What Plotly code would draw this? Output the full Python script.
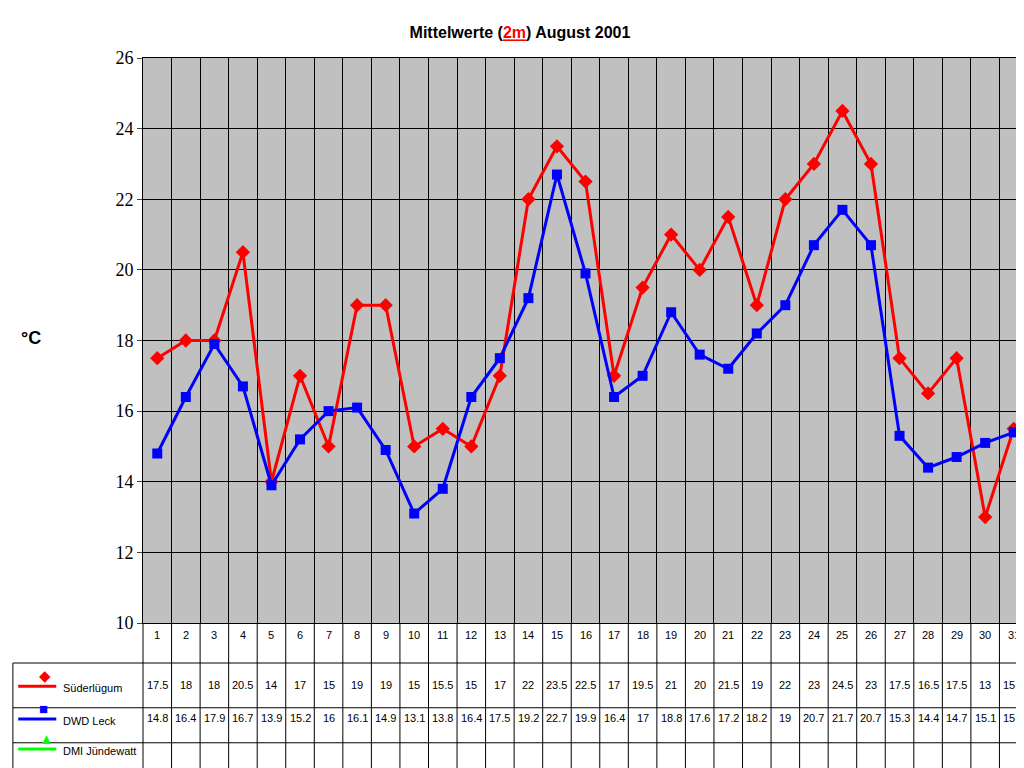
import plotly.graph_objects as go

days = list(range(1, 32))
suederluegum = [17.5,18,18,20.5,14,17,15,19,19,15,15.5,15,17,22,23.5,22.5,17,19.5,21,20,21.5,19,22,23,24.5,23,17.5,16.5,17.5,13,15.5]
dwd_leck = [14.8,16.4,17.9,16.7,13.9,15.2,16,16.1,14.9,13.1,13.8,16.4,17.5,19.2,22.7,19.9,16.4,17,18.8,17.6,17.2,18.2,19,20.7,21.7,20.7,15.3,14.4,14.7,15.1,15.4]
series_names = ["Süderlügum", "DWD Leck", "DMI Jündewatt"]
y_ticks = [10,12,14,16,18,20,22,24,26]

fig = go.Figure()
fig.add_trace(go.Scatter(x=days, y=suederluegum, mode="lines+markers", name=series_names[0],
    line=dict(color="#ff0000", width=3), marker=dict(symbol="diamond", size=11, color="#ff0000")))
fig.add_trace(go.Scatter(x=days, y=dwd_leck, mode="lines+markers", name=series_names[1],
    line=dict(color="#0000ff", width=3), marker=dict(symbol="square", size=10, color="#0000ff")))

shapes, ann = [], []
row_y = [-0.035, -0.124, -0.182, -0.235]
hlines = [-0.0708, -0.150, -0.212, -0.260]
L = -0.147
for h in hlines:
    shapes.append(dict(type="line", xref="paper", yref="paper", x0=L, x1=1, y0=h, y1=h, line=dict(color="black", width=1)))
shapes.append(dict(type="line", xref="paper", yref="paper", x0=L, x1=L, y0=hlines[0], y1=hlines[-1], line=dict(color="black", width=1)))
for i in range(32):
    x = (i) / 31
    shapes.append(dict(type="line", xref="paper", yref="paper", x0=x, x1=x, y0=0, y1=hlines[-1], line=dict(color="black", width=1)))
for d in days:
    ann.append(dict(x=d, y=row_y[0], xref="x", yref="paper", text=str(d), showarrow=False, font=dict(size=11)))
    ann.append(dict(x=d, y=row_y[1], xref="x", yref="paper", text=f"{suederluegum[d-1]:g}", showarrow=False, font=dict(size=11)))
    ann.append(dict(x=d, y=row_y[2], xref="x", yref="paper", text=f"{dwd_leck[d-1]:g}", showarrow=False, font=dict(size=11)))
legend_cols = ["#ff0000", "#0000ff", "#00ff00"]
syms = ["◆", "■", "▲"]
for k in range(3):
    yy = row_y[k+1] + 0.012
    shapes.append(dict(type="line", xref="paper", yref="paper", x0=-0.141, x1=-0.098, y0=yy, y1=yy, line=dict(color=legend_cols[k], width=3)))
    ann.append(dict(x=-0.1195, y=yy, xref="paper", yref="paper", text=syms[k], showarrow=False, font=dict(size=15, color=legend_cols[k])))
    ann.append(dict(x=-0.093, y=row_y[k+1] - 0.005, xref="paper", yref="paper", xanchor="left", text=series_names[k], showarrow=False, font=dict(size=11)))
ann.append(dict(x=-0.14, y=0.505, xref="paper", yref="paper", text="<b>°C</b>", showarrow=False, font=dict(size=18)))

fig.update_layout(
    width=1024, height=768, margin=dict(l=135, r=4, t=50, b=153),
    paper_bgcolor="white", plot_bgcolor="#c0c0c0", showlegend=False,
    font=dict(family="Arial", color="black"),
    title=dict(text="<b>Mittelwerte (<span style='color:red'><u>2m</u></span>) August 2001</b>",
               x=0.5, xanchor="center", y=0.975, font=dict(size=16)),
    shapes=shapes, annotations=ann,
)
fig.update_xaxes(range=[0.5, 31.5], tickvals=[i + 0.5 for i in range(32)], showticklabels=False,
                 showgrid=True, gridcolor="black", gridwidth=1, zeroline=False, showline=True, linecolor="black", mirror=True)
fig.update_yaxes(range=[10, 26], tickvals=y_ticks, tickfont=dict(size=18, family="Arial Black"),
                 showgrid=True, gridcolor="black", gridwidth=1, zeroline=False, showline=True, linecolor="black", mirror=True,
                 ticks="outside", ticklen=5)
fig.write_html("out.html")
